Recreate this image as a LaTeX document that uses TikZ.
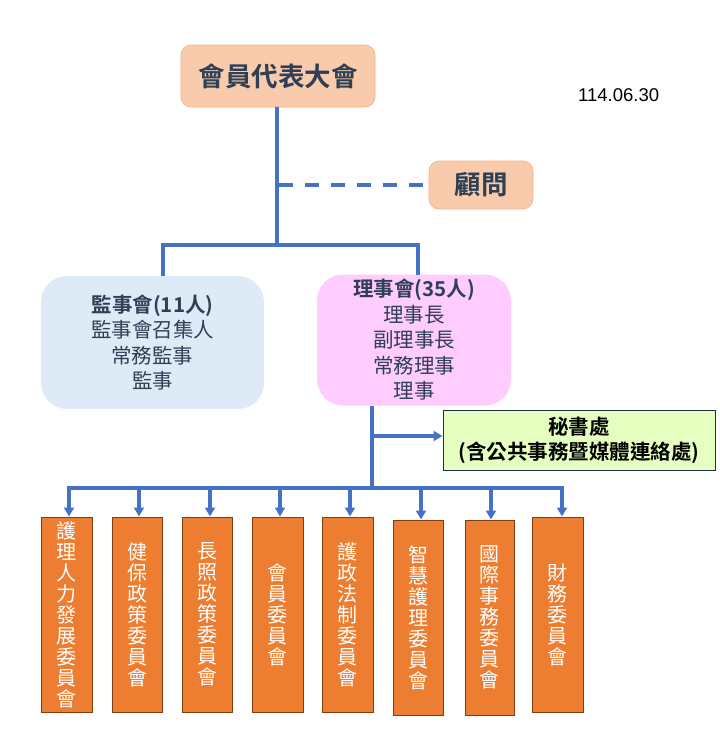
\documentclass[tikz,border=0pt]{standalone}
\usepackage{fontspec}
\setmainfont{Noto Sans CJK TC}
\newfontfamily\cjkb{Noto Sans CJK TC Bold}
\newfontfamily\datefont{Liberation Sans}
\usetikzlibrary{arrows.meta}
\definecolor{lineblue}{HTML}{4472C4}
\definecolor{peach}{HTML}{F8CBAD}
\definecolor{peachborder}{HTML}{F4B183}
\definecolor{paleblue}{HTML}{DEEBF7}
\definecolor{palepink}{HTML}{FFCCFF}
\definecolor{palegreen}{HTML}{E4FFC0}
\definecolor{darkframe}{HTML}{1F2F3F}
\definecolor{orangebox}{HTML}{ED7D31}
\definecolor{orangeborder}{HTML}{843C0C}
\definecolor{darktext}{HTML}{2F3F55}
\tikzset{
  x=1pt, y=-1pt,
  conn/.style={draw=lineblue, line width=3.5pt},
  arr/.style={conn, -{Triangle[length=9pt,width=10pt]}},
  peachbox/.style={draw=peachborder, line width=0.6pt, fill=peach, rounded corners=10pt, text=darktext, font=\cjkb\fontsize{26.5}{30}\selectfont, align=center},
  councilbox/.style={rounded corners=26pt, text=darktext, align=center, font=\fontsize{20.5}{25.5}\selectfont},
  committee/.style={draw=orangeborder, line width=1pt, fill=orangebox, text=white, align=center, inner sep=0pt, font=\fontsize{20}{21}\selectfont},
}
\begin{document}
\begin{tikzpicture}
\useasboundingbox (0,0) rectangle (720,753);
% top nodes
\node[peachbox, minimum width=194pt, minimum height=62pt] (gen) at (278,76) {會員代表大會};
\node[peachbox, minimum width=104pt, minimum height=48pt] (adv) at (481,185) {顧問};
\node[font=\datefont\fontsize{18.5}{20}\selectfont, anchor=west, inner sep=0pt] (date) at (578,95) {114.06.30};
% councils
\node[councilbox, fill=paleblue, minimum width=223pt, minimum height=133pt] (sup) at (152.5,342.5)
  {{\cjkb 監事會(11人)}\\監事會召集人\\常務監事\\監事};
\node[councilbox, fill=palepink, minimum width=194pt, minimum height=131pt] (dir) at (414,340)
  {{\cjkb 理事會(35人)}\\理事長\\副理事長\\常務理事\\理事};
% secretariat
\node[draw=darkframe, line width=1pt, fill=palegreen, minimum width=272pt, minimum height=60pt, align=center,
  font=\cjkb\fontsize{20.5}{25}\selectfont, text=black] (sec) at (579,440)
  {秘書處\\(含公共事務暨媒體連絡處)};
% committees
\node[committee, minimum width=51pt, minimum height=195pt] (c1) at (66.5,614.5) {護\\理\\人\\力\\發\\展\\委\\員\\會};
\node[committee, minimum width=50pt, minimum height=195pt] (c2) at (137,614.5) {健\\保\\政\\策\\委\\員\\會};
\node[committee, minimum width=50pt, minimum height=195pt] (c3) at (207,614.5) {長\\照\\政\\策\\委\\員\\會};
\node[committee, minimum width=51pt, minimum height=195pt] (c4) at (277.5,614.5) {會\\員\\委\\員\\會};
\node[committee, minimum width=51pt, minimum height=195pt] (c5) at (347.5,614.5) {護\\政\\法\\制\\委\\員\\會};
\node[committee, minimum width=50pt, minimum height=195pt] (c6) at (418,617.5) {智\\慧\\護\\理\\委\\員\\會};
\node[committee, minimum width=49pt, minimum height=195pt] (c7) at (489.5,617.5) {國\\際\\事\\務\\委\\員\\會};
\node[committee, minimum width=51pt, minimum height=195pt] (c8) at (557.5,614.5) {財\\務\\委\\員\\會};
% coordinates
\coordinate (j1) at (277,245);
\coordinate (j2) at (372,488);
\coordinate (jd) at (279,185);
% connectors
\draw[conn] (gen.south -| j1) -- (j1);
\draw[draw=lineblue, line width=3.5pt, dash pattern=on 14pt off 12pt] (jd) -- (adv.west);
\draw[conn] (163,245) -- (418,245);
\draw[conn] (163,243.25) -- (163,276);
\draw[conn] (418,243.25) -- (418,275);
\draw[conn] (dir.south -| j2) -- ([yshift=1.75pt]j2);
\draw[arr] (372,436) -- (sec.west |- 0,436);
\draw[conn] (68,488) -- (562,488);
\foreach \n/\xx in {c1/69,c2/139,c3/210,c4/280,c5/350,c8/562}{
  \draw[arr] (\xx,486.25) -- (\n.north -| \xx,0);
}
\foreach \n/\xx in {c6/421,c7/491}{
  \draw[arr] (\xx,486.25) -- (\n.north -| \xx,0);
}
\end{tikzpicture}
\end{document}
